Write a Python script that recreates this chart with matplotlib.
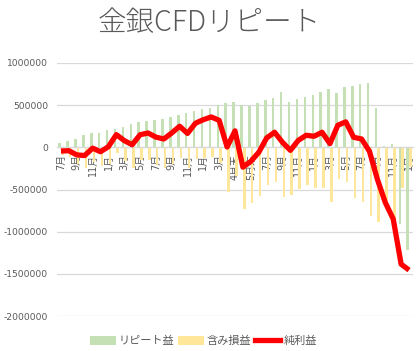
import matplotlib
matplotlib.use('Agg')
import matplotlib.pyplot as plt
import numpy as np
from matplotlib.lines import Line2D
from matplotlib.patches import Patch
from matplotlib.ticker import FuncFormatter, MultipleLocator

plt.rcParams['font.family'] = ['DejaVu Sans', 'Noto Sans CJK JP']

categories = ['7月', '8月', '9月', '10月', '11月', '12月', '1月', '2月', '3月', '4月', '5月', '6月',
              '7月', '8月', '9月', '10月', '11月', '12月', '1月', '2月', '3月', '4月', '4月末', '5月',
              '5月末', '6月', '7月', '8月', '9月', '10月', '11月', '12月', '1月', '2月', '3月', '4月',
              '5月', '6月', '7月', '8月', '9月', '10月', '11月', '12月', '1月']

repeat_profit = [51000, 79000, 102000, 146000, 169000, 173000, 205000, 220000, 244000, 280000,
                 300000, 315000, 327000, 339000, 362000, 382000, 405000, 429000, 458000, 470000,
                 500000, 528000, 540000, 500000, 496000, 520000, 556000, 590000, 651000, 532000,
                 577000, 591000, 617000, 661000, 697000, 641000, 711000, 725000, 749000, 761000,
                 472000, 16000, 42000, -905000, -1223000]

unrealized = [-95000, -119000, -192000, -243000, -179000, -225000, -197000, -69000, -164000, -249000,
              -151000, -145000, -206000, -240000, -192000, -132000, -240000, -143000, -130000, -110000,
              -180000, -524000, -345000, -735000, -663000, -580000, -445000, -411000, -591000, -568000,
              -494000, -448000, -486000, -482000, -653000, -379000, -409000, -606000, -650000, -809000,
              -880000, -671000, -892000, -480000, -233000]

net_profit = [-44000, -40000, -90000, -97000, -10000, -52000, 8000, 151000, 80000, 31000,
              149000, 170000, 121000, 99000, 170000, 250000, 165000, 286000, 328000, 360000,
              320000, 4000, 195000, -235000, -167000, -60000, 111000, 179000, 60000, -36000,
              83000, 143000, 131000, 179000, 44000, 262000, 302000, 119000, 99000, -48000,
              -380000, -655000, -850000, -1385000, -1456000]

series_names = ['リピート益', '含み損益', '純利益']
title = '金銀CFDリピート'

GREEN = '#c5e0b4'
YELLOW = '#ffe699'
RED = '#ff0000'
TXT = '#595959'
GRID = '#d9d9d9'

W, H = 418, 351
fig = plt.figure(figsize=(W / 100, H / 100), dpi=100)
ax = fig.add_axes([57 / W, 1 - 316 / H, 356 / W, 253 / H])

x = np.arange(len(categories))
bw = 0.32
ax.bar(x - 0.17, repeat_profit, width=bw, color=GREEN, zorder=2)
ax.bar(x + 0.17, unrealized, width=bw, color=YELLOW, zorder=2)
ax.plot(x, net_profit, color=RED, lw=3.8, solid_joinstyle='round', solid_capstyle='butt', zorder=3)

ax.set_xlim(-0.5, len(categories) - 0.5)
ax.set_ylim(-2000000, 1000000)
ax.yaxis.set_major_locator(MultipleLocator(500000))
ax.yaxis.set_major_formatter(FuncFormatter(lambda v, p: f'{int(round(v))}'))
ax.grid(axis='y', color=GRID, lw=0.9, zorder=0)
ax.set_axisbelow(True)

for s in ['top', 'right', 'left']:
    ax.spines[s].set_visible(False)
ax.spines['bottom'].set_position(('data', 0))
ax.spines['bottom'].set_color(GRID)
ax.spines['bottom'].set_linewidth(0.9)

ax.set_xticks(x[::2])
ax.set_xticklabels(categories[::2], rotation=90, fontsize=7, color=TXT)
ax.tick_params(axis='x', length=0, pad=5)
ax.tick_params(axis='y', length=0, pad=6.5, labelsize=6.6, labelcolor=TXT)

fig.text(0.5, 1 - 23 / H, title, ha='center', va='center', fontsize=20.5, color=TXT,
         family=['Noto Sans CJK JP'], fontweight='light')

handles = [Patch(facecolor=GREEN, edgecolor='none'),
           Patch(facecolor=YELLOW, edgecolor='none'),
           Line2D([0], [0], color=RED, lw=3.8)]
fig.legend(handles, series_names, loc='center', bbox_to_anchor=(0.487, 1 - 341 / H), ncol=3,
           frameon=False, handlelength=2.3, handleheight=0.8, handletextpad=0.3,
           columnspacing=0.3, labelcolor=TXT, prop={'family': ['Noto Sans CJK JP'], 'size': 8})

fig.savefig('out.png', dpi=100)
